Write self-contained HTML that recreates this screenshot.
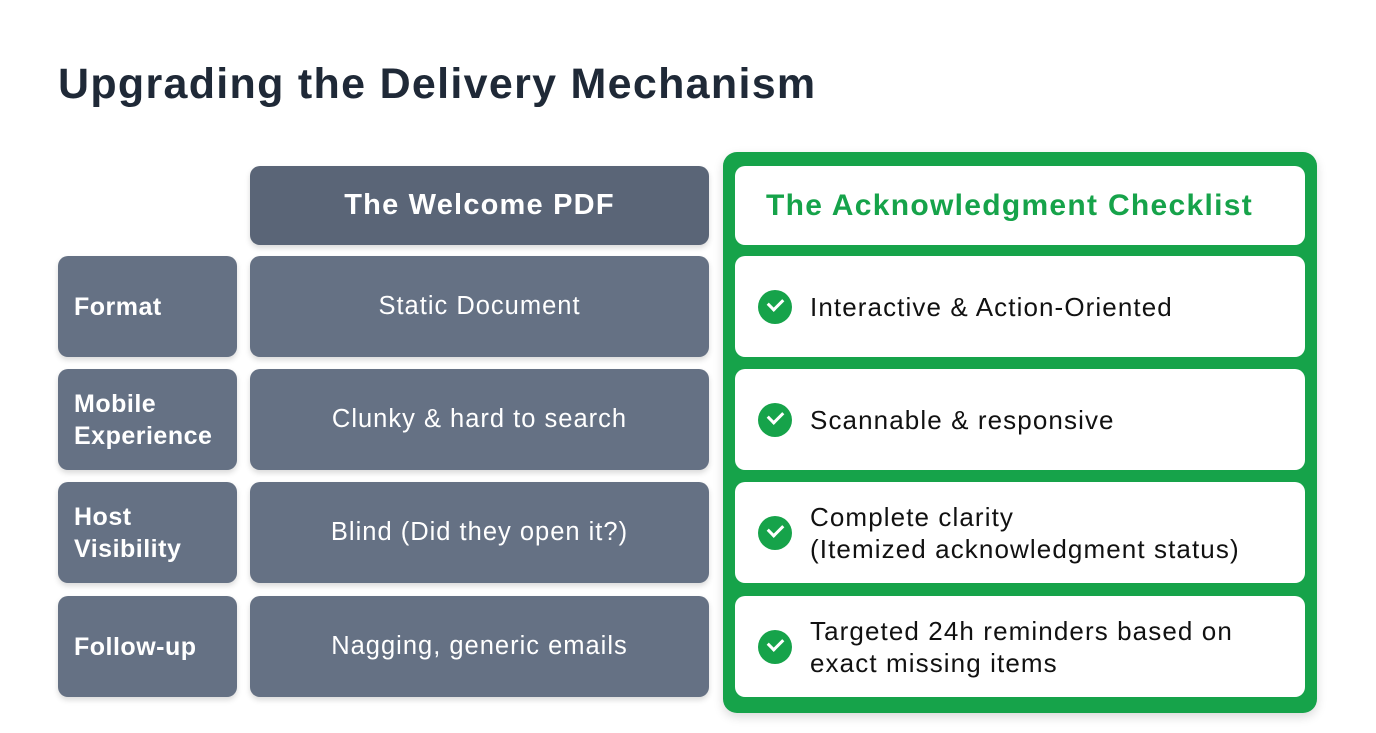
<!DOCTYPE html>
<html><head><style>
body{margin:0;width:1376px;height:733px;background:#fff;position:relative;overflow:hidden;font-family:"Liberation Sans",sans-serif}
.a{position:absolute;box-sizing:border-box;display:flex;align-items:center}
h1{position:absolute;left:58px;top:60px;margin:0;font-size:43px;font-weight:bold;color:#1f2937;letter-spacing:1.3px}
.lab{left:58px;width:179px;height:101px;background:#657184;border-radius:10px;color:#fff;font-weight:bold;font-size:25px;padding-left:16px;line-height:32px;letter-spacing:0.5px;box-shadow:0 3px 6px rgba(0,0,0,.15)}
.pdf{left:250px;width:459px;height:101px;background:#657184;border-radius:10px;color:#fff;font-size:25.5px;letter-spacing:1px;justify-content:center;text-align:center;box-shadow:0 3px 6px rgba(0,0,0,.15)}
.grn{left:723px;top:152px;width:594px;height:561px;background:#16a34a;border-radius:14px;box-shadow:0 4px 10px rgba(0,0,0,.15)}
.w{left:735px;width:570px;height:101px;background:#fff;border-radius:10px;font-size:26px;letter-spacing:1.1px;color:#111;padding-left:75px;line-height:32px}
.chk{position:absolute;left:23px;top:50%;margin-top:-17px;width:34px;height:34px;border-radius:50%;background:#16a34a}
.chk:after{content:"";position:absolute;left:10px;top:8px;width:12px;height:7px;border-left:3.5px solid #fff;border-bottom:3.5px solid #fff;transform:rotate(-45deg)}
</style></head><body>
<h1>Upgrading the Delivery Mechanism</h1>
<div class="a pdf" style="top:166px;height:79px;background:#5a6577;font-weight:bold;font-size:29px;letter-spacing:1.2px">The Welcome PDF</div>
<div class="a grn"></div>
<div class="a w" style="top:166px;height:79px;padding-left:31px;color:#16a34a;font-weight:bold;font-size:30px;letter-spacing:1.3px">The Acknowledgment Checklist</div>

<div class="a lab" style="top:256px">Format</div>
<div class="a lab" style="top:369px">Mobile<br>Experience</div>
<div class="a lab" style="top:482px">Host<br>Visibility</div>
<div class="a lab" style="top:596px">Follow-up</div>

<div class="a pdf" style="top:256px">Static Document</div>
<div class="a pdf" style="top:369px">Clunky &amp; hard to search</div>
<div class="a pdf" style="top:482px">Blind (Did they open it?)</div>
<div class="a pdf" style="top:596px">Nagging, generic emails</div>

<div class="a w" style="top:256px"><span class="chk"></span>Interactive &amp; Action-Oriented</div>
<div class="a w" style="top:369px"><span class="chk"></span>Scannable &amp; responsive</div>
<div class="a w" style="top:482px"><span class="chk"></span>Complete clarity<br>(Itemized acknowledgment status)</div>
<div class="a w" style="top:596px"><span class="chk"></span>Targeted 24h reminders based on<br>exact missing items</div>
</body></html>
